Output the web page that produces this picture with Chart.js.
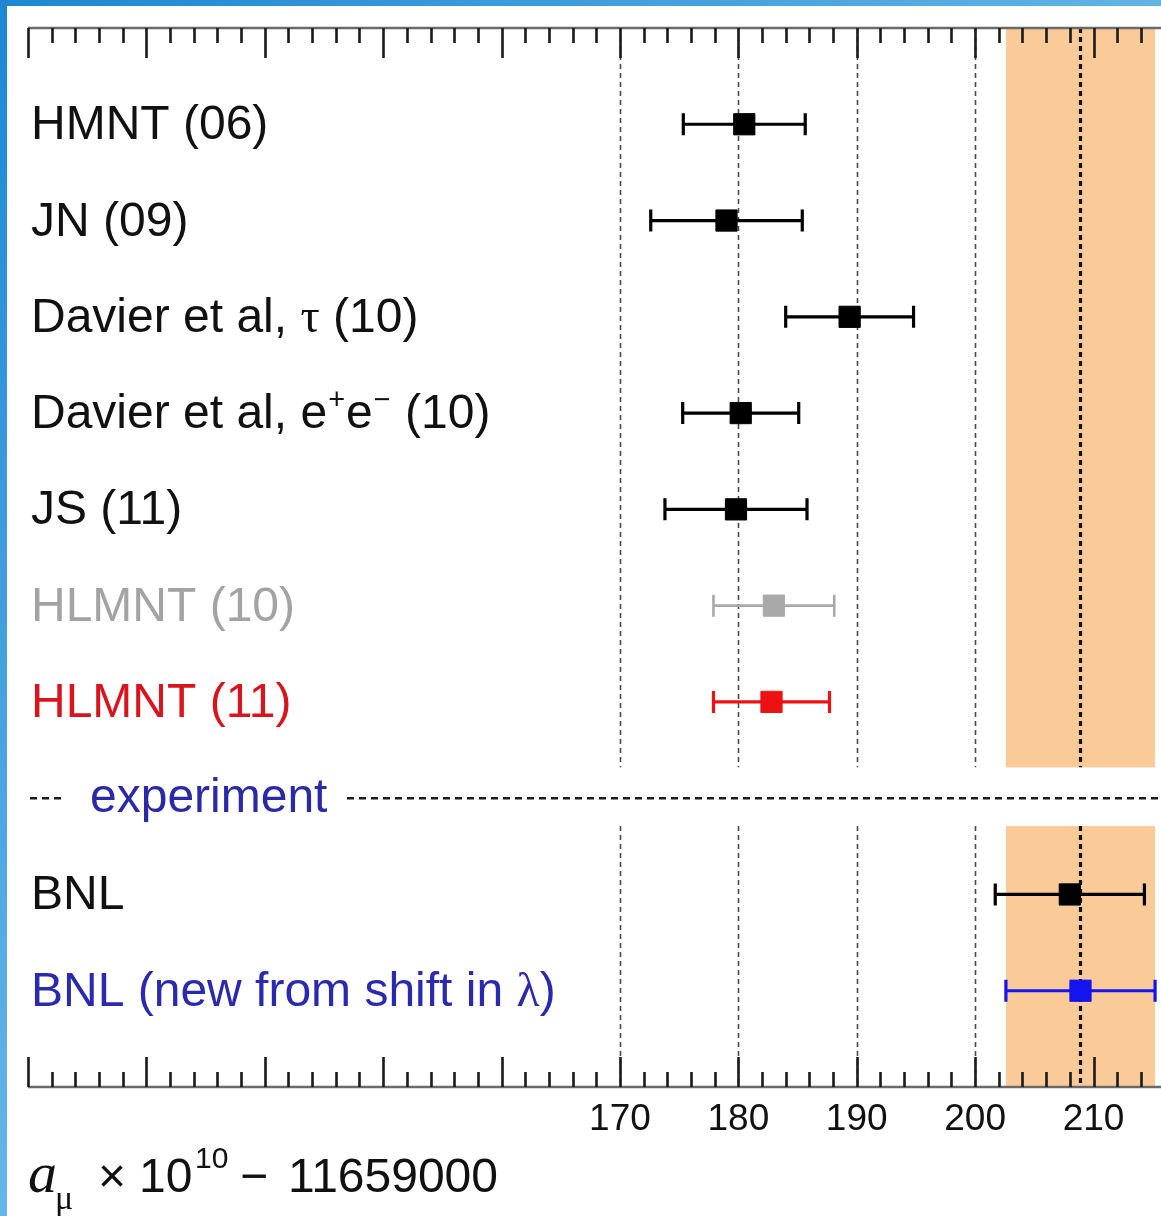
<!DOCTYPE html>
<html><head><meta charset="utf-8">
<script src="https://cdn.jsdelivr.net/npm/chart.js@4.4.1/dist/chart.umd.min.js"></script>
<style>
html,body{margin:0;padding:0;background:#fff;}
#wrap{position:relative;width:1161px;height:1216px;overflow:hidden;}
canvas{position:absolute;left:0;top:0;}
</style></head><body>
<div id="wrap"><canvas id="c" width="1161" height="1216"></canvas></div>
<script>
// ---------- data ----------
const categories = ['HMNT (06)', 'JN (09)', 'Davier et al, τ (10)', 'Davier et al, e^{+}e^{−} (10)', 'JS (11)', 'HLMNT (10)', 'HLMNT (11)', 'BNL', 'BNL (new from shift in λ)'];
const rowIndex = [0, 1, 2, 3, 4, 5, 6, 8, 9];
const values = [180.5, 179.0, 189.4, 180.2, 179.8, 183.0, 182.8, 208.0, 208.9];
const errors = [5.15, 6.4, 5.4, 4.9, 6.0, 5.1, 4.9, 6.3, 6.3];
const markerColors = ['#000000', '#000000', '#000000', '#000000', '#000000', '#a9a9a9', '#ee1111', '#000000', '#1414ee'];
const labelColors = ['#111111', '#111111', '#111111', '#111111', '#111111', '#a3a3a3', '#d8141c', '#111111', '#2a2ab0'];
const tickLabels = ['170', '180', '190', '200', '210'];
const tickLabelValues = [170, 180, 190, 200, 210];
const gridValues = [170, 180, 190, 200];
const bandCenter = 208.9;
const bandHalfWidth = 6.3;
const experimentRow = 7;
const sectionLabel = 'experiment';
const xMin = 120, xMax = 215.7;

const SANS = '"Liberation Sans", Arial, Helvetica, sans-serif';
const SERIF = '"Liberation Serif", "Times New Roman", serif';

function drawRich(ctx, str, x, y, size, color) {
  ctx.fillStyle = color;
  ctx.textBaseline = 'alphabetic';
  ctx.textAlign = 'left';
  let cx = x;
  const re = /\^\{([^}]*)\}|([τλμ])|([^\^τλμ]+)/g;
  let m;
  while ((m = re.exec(str))) {
    if (m[1] !== undefined) {
      ctx.font = Math.round(size * 0.6) + 'px ' + SANS;
      ctx.fillText(m[1], cx + 1, y - size * 0.4);
      cx += ctx.measureText(m[1]).width + 2;
    } else if (m[2]) {
      ctx.font = size + 'px ' + SERIF;
      ctx.fillText(m[2], cx, y);
      cx += ctx.measureText(m[2]).width;
    } else {
      ctx.font = size + 'px ' + SANS;
      ctx.fillText(m[3], cx, y);
      cx += ctx.measureText(m[3]).width;
    }
  }
  return cx;
}

const overlay = {
  id: 'overlay',
  beforeDraw(chart) {
    const ctx = chart.ctx;
    ctx.save();
    ctx.fillStyle = '#ffffff';
    ctx.fillRect(0, 0, chart.width, chart.height);
    ctx.restore();
  },
  beforeDatasetsDraw(chart) {
    const ctx = chart.ctx;
    const xs = chart.scales.x, ys = chart.scales.y;
    const top = chart.chartArea.top, bottom = chart.chartArea.bottom;
    const left = chart.chartArea.left, right = chart.chartArea.right;
    const gapTop = ys.getPixelForValue(experimentRow - 0.32);
    const gapBot = ys.getPixelForValue(experimentRow + 0.29);
    const expY = ys.getPixelForValue(experimentRow);
    ctx.save();
    // band
    ctx.fillStyle = '#facb98';
    const bx0 = xs.getPixelForValue(bandCenter - bandHalfWidth);
    const bx1 = xs.getPixelForValue(bandCenter + bandHalfWidth);
    ctx.fillRect(bx0, top, bx1 - bx0, gapTop - top);
    ctx.fillRect(bx0, gapBot, bx1 - bx0, bottom - gapBot);
    // grid dashed lines
    ctx.strokeStyle = '#4a4a4a';
    ctx.lineWidth = 1.6;
    ctx.setLineDash([5, 4]);
    gridValues.forEach(v => {
      const px = Math.round(xs.getPixelForValue(v)) + 0.5;
      ctx.beginPath();
      ctx.moveTo(px, top); ctx.lineTo(px, gapTop);
      ctx.moveTo(px, gapBot); ctx.lineTo(px, bottom);
      ctx.stroke();
    });
    // central dotted line
    ctx.strokeStyle = '#111111';
    ctx.lineWidth = 3.2;
    ctx.setLineDash([5, 4]);
    const cpx = xs.getPixelForValue(bandCenter);
    ctx.beginPath();
    ctx.moveTo(cpx, top); ctx.lineTo(cpx, gapTop);
    ctx.moveTo(cpx, gapBot); ctx.lineTo(cpx, bottom);
    ctx.stroke();
    // experiment separator
    ctx.strokeStyle = '#1a1a1a';
    ctx.lineWidth = 2.4;
    ctx.setLineDash([7, 5]);
    ctx.beginPath();
    ctx.moveTo(30, expY); ctx.lineTo(62, expY);
    ctx.moveTo(347, expY); ctx.lineTo(right, expY);
    ctx.stroke();
    ctx.setLineDash([]);
    ctx.font = '48px ' + SANS;
    ctx.fillStyle = '#2a2aa6';
    ctx.textBaseline = 'alphabetic';
    ctx.fillText(sectionLabel, 90, expY + 14);
    // axes lines
    ctx.strokeStyle = '#6a6a6a';
    ctx.lineWidth = 2.5;
    ctx.beginPath();
    ctx.moveTo(left, top); ctx.lineTo(right, top);
    ctx.moveTo(left, bottom); ctx.lineTo(right, bottom);
    ctx.stroke();
    // ticks
    ctx.strokeStyle = '#1a1a1a';
    ctx.lineWidth = 2.6;
    for (let v = xMin; v <= xMax; v += 2) {
      const major = v % 10 === 0;
      const len = major ? 30 : 15;
      const px = Math.round(xs.getPixelForValue(v)) + 0.5;
      ctx.beginPath();
      ctx.moveTo(px, top); ctx.lineTo(px, top + len);
      ctx.moveTo(px, bottom); ctx.lineTo(px, bottom - len);
      ctx.stroke();
    }
    // tick labels
    ctx.font = '37px ' + SANS;
    ctx.fillStyle = '#111111';
    ctx.textAlign = 'center';
    tickLabelValues.forEach((v, i) => {
      ctx.fillText(tickLabels[i], xs.getPixelForValue(v), bottom + 43);
    });
    ctx.textAlign = 'left';
    // axis title
    ctx.fillStyle = '#111111';
    ctx.font = 'italic 58px ' + SERIF;
    ctx.fillText('a', 28, 1192);
    ctx.font = '34px ' + SERIF;
    ctx.fillText('μ', 55, 1209);
    ctx.font = '48px ' + SANS;
    ctx.fillText('×', 98, 1192);
    ctx.fillText('10', 139, 1192);
    ctx.font = '30px ' + SANS;
    ctx.fillText('10', 195, 1168);
    ctx.font = '48px ' + SANS;
    ctx.fillText('−', 240, 1192);
    ctx.fillText('11659000', 288, 1192);
    // row labels
    categories.forEach((lab, i) => {
      const py = ys.getPixelForValue(rowIndex[i]);
      drawRich(ctx, lab, 31, py + 15, 48, labelColors[i]);
    });
    // error bars
    values.forEach((v, i) => {
      const py = ys.getPixelForValue(rowIndex[i]);
      const x0 = xs.getPixelForValue(v - errors[i]);
      const x1 = xs.getPixelForValue(v + errors[i]);
      ctx.strokeStyle = markerColors[i];
      ctx.lineWidth = i === 5 ? 2.6 : 3.2;
      ctx.beginPath();
      ctx.moveTo(x0, py); ctx.lineTo(x1, py);
      ctx.moveTo(x0, py - 11); ctx.lineTo(x0, py + 11);
      ctx.moveTo(x1, py - 11); ctx.lineTo(x1, py + 11);
      ctx.stroke();
    });
    ctx.restore();
  },
  afterDraw(chart) {
    const ctx = chart.ctx;
    ctx.save();
    let g = ctx.createLinearGradient(0, 0, chart.width, 0);
    g.addColorStop(0, '#1d87d3'); g.addColorStop(1, '#63b3e5');
    ctx.fillStyle = g;
    ctx.fillRect(0, 0, chart.width, 6);
    g = ctx.createLinearGradient(0, 0, 0, chart.height);
    g.addColorStop(0, '#1d87d3'); g.addColorStop(1, '#66b6e8');
    ctx.fillStyle = g;
    ctx.fillRect(0, 0, 7, chart.height);
    ctx.restore();
  }
};

const points = values.map((v, i) => ({ x: v, y: rowIndex[i] }));

new Chart(document.getElementById('c'), {
  type: 'scatter',
  data: {
    datasets: [{
      data: points,
      pointStyle: 'rect',
      pointRadius: 15,
      pointHoverRadius: 15,
      pointBackgroundColor: markerColors,
      pointBorderColor: markerColors,
      pointBorderWidth: 1
    }]
  },
  options: {
    responsive: false,
    animation: false,
    events: [],
    layout: { autoPadding: false, padding: { left: 28, top: 28, right: 0, bottom: 129 } },
    plugins: { legend: { display: false }, tooltip: { enabled: false } },
    scales: {
      x: { type: 'linear', min: xMin, max: xMax, display: false },
      y: { type: 'linear', min: -1, max: 10, reverse: true, display: false }
    }
  },
  plugins: [overlay]
});
</script>
</body></html>
